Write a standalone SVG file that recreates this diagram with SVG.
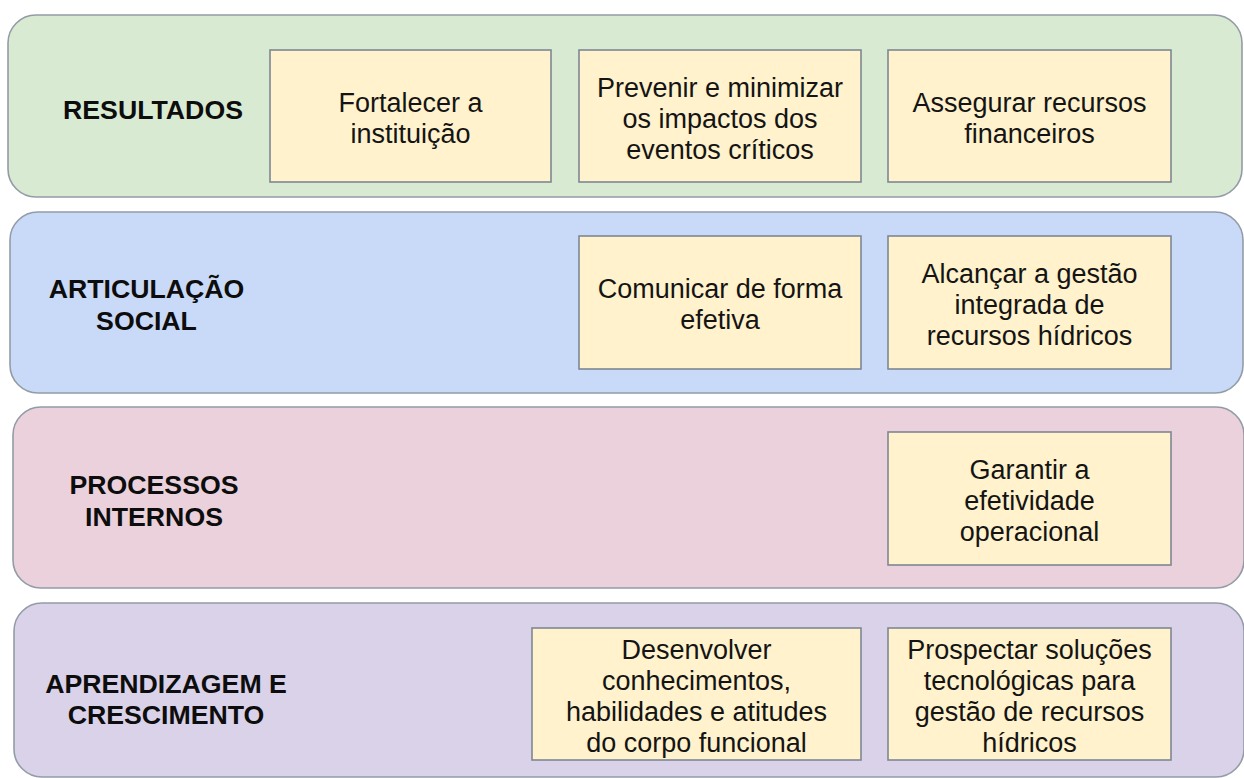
<svg xmlns="http://www.w3.org/2000/svg" width="1244" height="778" viewBox="0 0 1244 778">
<style>
.band{stroke:#939ca6;stroke-width:1.6}
.box{fill:#fff2cc;stroke:#7d8893;stroke-width:1.6}
.t{font-family:"Liberation Sans",Arial,sans-serif;font-size:27px;fill:#141414;text-anchor:middle}
.lbl{font-family:"Liberation Sans",Arial,sans-serif;font-size:26.7px;font-weight:bold;fill:#0d0d0d;text-anchor:middle}
</style>
<rect width="1244" height="778" fill="#ffffff"/>
<g id="band-resultados">
<rect class="band" x="8" y="15" width="1234" height="182" rx="28" fill="#d9ead3"/>
<text class="lbl" x="153" y="119">RESULTADOS</text>
</g>
<g id="band-articulacao">
<rect class="band" x="10" y="212" width="1233" height="181" rx="28" fill="#c9daf8"/>
<text class="lbl" x="146.5" y="298">ARTICULAÇÃO</text>
<text class="lbl" x="146.5" y="330">SOCIAL</text>
</g>
<g id="band-processos">
<rect class="band" x="13" y="407" width="1231" height="181" rx="28" fill="#ead1dc"/>
<text class="lbl" x="154" y="494">PROCESSOS</text>
<text class="lbl" x="154" y="526">INTERNOS</text>
</g>
<g id="band-aprendizagem">
<rect class="band" x="14" y="603" width="1230" height="174" rx="28" fill="#d9d2e9"/>
<text class="lbl" x="166" y="693">APRENDIZAGEM E</text>
<text class="lbl" x="166" y="724">CRESCIMENTO</text>
</g>
<g id="n-fortalecer">
<rect class="box" x="270" y="50" width="281" height="132"/>
<text class="t" x="410.5" y="112">Fortalecer a</text>
<text class="t" x="410.5" y="143">instituição</text>
</g>
<g id="n-prevenir">
<rect class="box" x="579" y="50" width="282" height="132"/>
<text class="t" x="720" y="97">Prevenir e minimizar</text>
<text class="t" x="720" y="128">os impactos dos</text>
<text class="t" x="720" y="159">eventos críticos</text>
</g>
<g id="n-assegurar">
<rect class="box" x="888" y="50" width="283" height="132"/>
<text class="t" x="1029.5" y="112">Assegurar recursos</text>
<text class="t" x="1029.5" y="143">financeiros</text>
</g>
<g id="n-comunicar">
<rect class="box" x="579" y="236" width="282" height="133"/>
<text class="t" x="720" y="298">Comunicar de forma</text>
<text class="t" x="720" y="329">efetiva</text>
</g>
<g id="n-alcancar">
<rect class="box" x="888" y="236" width="283" height="133"/>
<text class="t" x="1029.5" y="283">Alcançar a gestão</text>
<text class="t" x="1029.5" y="314">integrada de</text>
<text class="t" x="1029.5" y="345">recursos hídricos</text>
</g>
<g id="n-garantir">
<rect class="box" x="888" y="432" width="283" height="133"/>
<text class="t" x="1029.5" y="479">Garantir a</text>
<text class="t" x="1029.5" y="510">efetividade</text>
<text class="t" x="1029.5" y="541">operacional</text>
</g>
<g id="n-desenvolver">
<rect class="box" x="532" y="628" width="329" height="132"/>
<text class="t" x="696.5" y="659">Desenvolver</text>
<text class="t" x="696.5" y="690">conhecimentos,</text>
<text class="t" x="696.5" y="721">habilidades e atitudes</text>
<text class="t" x="696.5" y="752">do corpo funcional</text>
</g>
<g id="n-prospectar">
<rect class="box" x="888" y="628" width="283" height="132"/>
<text class="t" x="1029.5" y="659">Prospectar soluções</text>
<text class="t" x="1029.5" y="690">tecnológicas para</text>
<text class="t" x="1029.5" y="721">gestão de recursos</text>
<text class="t" x="1029.5" y="752">hídricos</text>
</g>
<g id="connectors"></g>
</svg>
